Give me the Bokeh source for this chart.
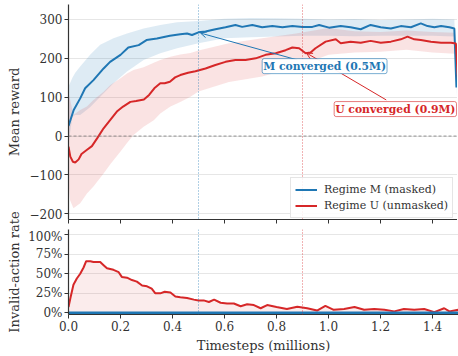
from bokeh.plotting import figure
from bokeh.layouts import column, row
from bokeh.models import (Range1d, FixedTicker, PrintfTickFormatter, CustomJSTickFormatter,
                          Span, Label, Arrow, OpenHead)
from bokeh.embed import file_html
from bokeh.resources import INLINE

# ---------------- data ----------------
x_ticks = [0.0, 0.2, 0.4, 0.6, 0.8, 1.0, 1.2, 1.4]
reward_ticks = [-200, -100, 0, 100, 200, 300]
rate_ticks = [0, 25, 50, 75, 100]

m_x = [0, 0.02, 0.045, 0.064, 0.096, 0.135, 0.16, 0.2, 0.23, 0.27, 0.30, 0.34, 0.39, 0.43, 0.456,
       0.475, 0.50, 0.527, 0.565, 0.604, 0.642, 0.668, 0.707, 0.745, 0.784, 0.823, 0.861, 0.90,
       0.938, 0.964, 1.002, 1.047, 1.085, 1.124, 1.162, 1.201, 1.24, 1.278, 1.317, 1.355, 1.381,
       1.407, 1.433, 1.465, 1.484, 1.492]
m_reward = [26, 67, 97, 123, 144, 174, 191, 209, 228, 234, 247, 251, 258, 262, 264,
            260, 267, 269, 275, 280, 286, 281, 286, 280, 283, 280, 283, 281,
            281, 286, 279, 283, 280, 275, 286, 280, 277, 283, 280, 290, 283,
            280, 283, 280, 277, 125]

mb_x = [0, 0.015, 0.026, 0.045, 0.084, 0.122, 0.173, 0.225, 0.289, 0.353, 0.418, 0.50, 0.60,
        0.70, 0.80, 0.90, 1.0, 1.1, 1.2, 1.3, 1.4, 1.484, 1.492]
m_hi = [127, 150, 163, 179, 210, 235, 252, 264, 277, 286, 293, 296, 302,
        304, 303, 302, 300, 301, 299, 300, 302, 300, 150]
m_lo = [-20, 50, 54, 54, 75, 101, 136, 166, 196, 213, 226, 239, 252,
        254, 256, 258, 258, 257, 258, 258, 258, 256, 100]

u_x = [0, 0.007, 0.017, 0.026, 0.039, 0.05, 0.07, 0.09, 0.11, 0.135, 0.16, 0.186, 0.21, 0.238,
       0.26, 0.29, 0.31, 0.33, 0.353, 0.37, 0.39, 0.41, 0.43, 0.46, 0.488, 0.527, 0.565, 0.604,
       0.642, 0.681, 0.72, 0.758, 0.797, 0.835, 0.861, 0.887, 0.912, 0.931, 0.95, 0.989, 1.028,
       1.047, 1.085, 1.124, 1.162, 1.201, 1.24, 1.278, 1.304, 1.33, 1.355, 1.394, 1.433, 1.471,
       1.49, 1.5]
u_reward = [-27, -53, -66, -68, -60, -46, -36, -26, -6, 20, 41, 63, 76, 88,
            90, 94, 106, 123, 136, 136, 140, 151, 157, 163, 167, 174, 183, 191,
            196, 196, 200, 209, 213, 221, 228, 226, 213, 215, 226, 243, 249,
            239, 243, 240, 245, 240, 243, 249, 256, 249, 247, 243, 240, 240,
            238, 120]

ub_x = [0, 0.006, 0.019, 0.045, 0.071, 0.096, 0.135, 0.16, 0.2, 0.225, 0.25, 0.289, 0.328, 0.353,
        0.392, 0.43, 0.469, 0.50, 0.617, 0.745, 0.875, 1.0, 1.1, 1.2, 1.3, 1.4, 1.486, 1.5]
u_hi = [110, 95, 54, 67, 76, 93, 114, 131, 149, 161, 170, 177, 189, 196,
        204, 210, 214, 220, 239, 252, 264, 278, 270, 268, 272, 268, 266, 140]
u_lo = [-120, -165, -186, -173, -148, -130, -96, -73, -40, -18, 3, 24, 41, 58,
        76, 88, 101, 115, 139, 153, 178, 209, 215, 217, 222, 215, 212, 100]

inv_x = [0, 0.008, 0.019, 0.032, 0.045, 0.058, 0.068, 0.084, 0.096, 0.122, 0.135, 0.148, 0.173,
         0.193, 0.205, 0.225, 0.244, 0.263, 0.283, 0.302, 0.32, 0.334, 0.353, 0.37, 0.392, 0.411,
         0.43, 0.456, 0.482, 0.50, 0.52, 0.54, 0.56, 0.585, 0.61, 0.636, 0.662, 0.687, 0.713,
         0.739, 0.764, 0.80, 0.84, 0.88, 0.918, 0.956, 0.988, 1.02, 1.06, 1.10, 1.137, 1.176,
         1.215, 1.253, 1.29, 1.33, 1.368, 1.407, 1.445, 1.465, 1.5]
u_invalid = [7.6, 20, 36, 44, 50, 58, 66, 66, 65, 65, 61, 57, 55,
             52, 46, 45, 42, 40, 35, 34, 31, 25, 25, 27, 26, 21,
             20, 19, 17, 16, 16, 14, 17, 13, 12, 12, 8.5, 11, 10,
             6, 10, 7.5, 5, 8, 6, 3, 9, 4, 5, 7.5, 4, 5,
             4, 2, 5, 4, 5, 1, 6, 2, 4]
m_inv_x = [0, 1.5]
m_invalid = [0, 0]

m_converged = 0.5
u_converged = 0.9

# ---------------- styling ----------------
BLUE = "#1f77b4"
RED = "#d62728"
FONT = "DejaVu Serif"
DARK = "#333333"

x_range = Range1d(0, 1.5)


def style(p):
    p.outline_line_color = None
    p.background_fill_color = "white"
    p.xgrid.visible = False
    p.ygrid.grid_line_color = "#e6e6e6"
    p.ygrid.grid_line_width = 1
    for ax in (p.xaxis[0], p.yaxis[0]):
        ax.axis_line_color = DARK
        ax.axis_line_width = 1.2
        ax.major_tick_line_color = DARK
        ax.major_tick_line_width = 1
        ax.major_tick_out = 4
        ax.major_tick_in = 0
        ax.minor_tick_line_color = None
        ax.major_label_text_font = FONT
        ax.major_label_text_font_size = "12px"
        ax.major_label_text_color = DARK
        ax.axis_label_text_font = FONT
        ax.axis_label_text_font_size = "13px"
        ax.axis_label_text_font_style = "normal"
        ax.axis_label_text_color = DARK
        ax.major_label_standoff = 2
    p.xaxis.ticker = FixedTicker(ticks=x_ticks)


# ---------------- top panel ----------------
p1 = figure(frame_width=390, frame_height=215, x_range=x_range, y_range=Range1d(-214.7, 338.6),
            output_backend="svg", toolbar_location=None,
            min_border_left=40, min_border_right=0, min_border_top=4, min_border_bottom=10)
style(p1)
p1.yaxis.ticker = FixedTicker(ticks=reward_ticks)
p1.yaxis.formatter = CustomJSTickFormatter(
    code="return tick < 0 ? '\u2212' + Math.abs(tick) : String(tick);")
p1.xaxis.formatter = CustomJSTickFormatter(code="return '';")
p1.xaxis.major_label_standoff = 0

p1.varea(x=mb_x, y1=m_lo, y2=m_hi, fill_color=BLUE, fill_alpha=0.15)
p1.varea(x=ub_x, y1=u_lo, y2=u_hi, fill_color=RED, fill_alpha=0.13)

p1.add_layout(Span(location=0, dimension="width", line_color="#777777", line_width=0.8,
                   line_dash="3 2"))
for loc, col in ((m_converged, BLUE), (u_converged, RED)):
    p1.add_layout(Span(location=loc, dimension="height", line_color=col, line_alpha=0.7,
                       line_width=1, line_dash="1 2"))

p1.line(m_x, m_reward, line_color=BLUE, line_width=2, legend_label="Regime M (masked)")
p1.line(u_x, u_reward, line_color=RED, line_width=2, legend_label="Regime U (unmasked)")

p1.add_layout(Arrow(end=OpenHead(size=6, line_color=BLUE, line_width=1),
                    x_start=0.88, y_start=196, x_end=0.508, y_end=265,
                    line_color=BLUE, line_width=1))
p1.add_layout(Arrow(end=OpenHead(size=6, line_color=RED, line_width=1),
                    x_start=1.222, y_start=93, x_end=0.915, y_end=214,
                    line_color=RED, line_width=1))

p1.add_layout(Label(x=0.985, y=180, text="M converged (0.5M)", text_align="center",
                    text_baseline="middle", text_font=FONT, text_font_size="10.8px",
                    text_font_style="bold", text_color=BLUE,
                    background_fill_color="white", background_fill_alpha=0.95,
                    border_line_color=BLUE, border_line_alpha=0.6, border_line_width=1,
                    padding=1, border_radius=2))
p1.add_layout(Label(x=1.257, y=69.5, text="U converged (0.9M)", text_align="center",
                    text_baseline="middle", text_font=FONT, text_font_size="10.8px",
                    text_font_style="bold", text_color=RED,
                    background_fill_color="white", background_fill_alpha=0.95,
                    border_line_color=RED, border_line_alpha=0.6, border_line_width=1,
                    padding=1, border_radius=2))

lg = p1.legend[0]
lg.location = (223, 1)
lg.margin = 0
lg.padding = 4
lg.spacing = 1
lg.label_text_font = FONT
lg.label_text_font_size = "11px"
lg.label_text_color = DARK
lg.label_height = 15
lg.glyph_height = 15
lg.glyph_width = 22
lg.label_standoff = 7
lg.border_line_color = "#cccccc"
lg.border_line_width = 1
lg.background_fill_alpha = 0.85

# ---------------- bottom panel ----------------
p2 = figure(frame_width=390, frame_height=85, x_range=x_range, y_range=Range1d(-2, 106.5),
            output_backend="svg", toolbar_location=None,
            min_border_left=40, min_border_right=0, min_border_top=0, min_border_bottom=40)
style(p2)
p2.yaxis.ticker = FixedTicker(ticks=rate_ticks)
p2.yaxis.formatter = PrintfTickFormatter(format="%d%%")
p2.xaxis.formatter = PrintfTickFormatter(format="%.1f")
p2.xaxis.axis_label = "Timesteps (millions)"
p2.xaxis.axis_label_standoff = 4

p2.varea(x=inv_x, y1=[0] * len(inv_x), y2=u_invalid, fill_color=RED, fill_alpha=0.09)
for loc, col in ((m_converged, BLUE), (u_converged, RED)):
    p2.add_layout(Span(location=loc, dimension="height", line_color=col, line_alpha=0.7,
                       line_width=1, line_dash="1 2"))
p2.line(inv_x, u_invalid, line_color=RED, line_width=2)
p2.line(m_inv_x, m_invalid, line_color=BLUE, line_width=3)

# ---------------- shared y-axis titles (column at the left) ----------------
lf = figure(width=25, height=354, x_range=Range1d(0, 25), y_range=Range1d(354, 0),
            x_axis_type=None, y_axis_type=None, output_backend="svg", toolbar_location=None,
            min_border=0)
lf.outline_line_color = None
lf.grid.visible = False
lf.add_layout(Label(x=14, y=111.5, text="Mean reward", angle=90, angle_units="deg",
                    text_align="center", text_baseline="middle", text_font=FONT,
                    text_font_size="13px", text_color=DARK))
lf.add_layout(Label(x=14, y=271.5, text="Invalid-action rate", angle=90, angle_units="deg",
                    text_align="center", text_baseline="middle", text_font=FONT,
                    text_font_size="13px", text_color=DARK))

layout = row(lf, column(p1, p2, spacing=0), spacing=0)
open("out.html", "w").write(file_html(layout, INLINE))
